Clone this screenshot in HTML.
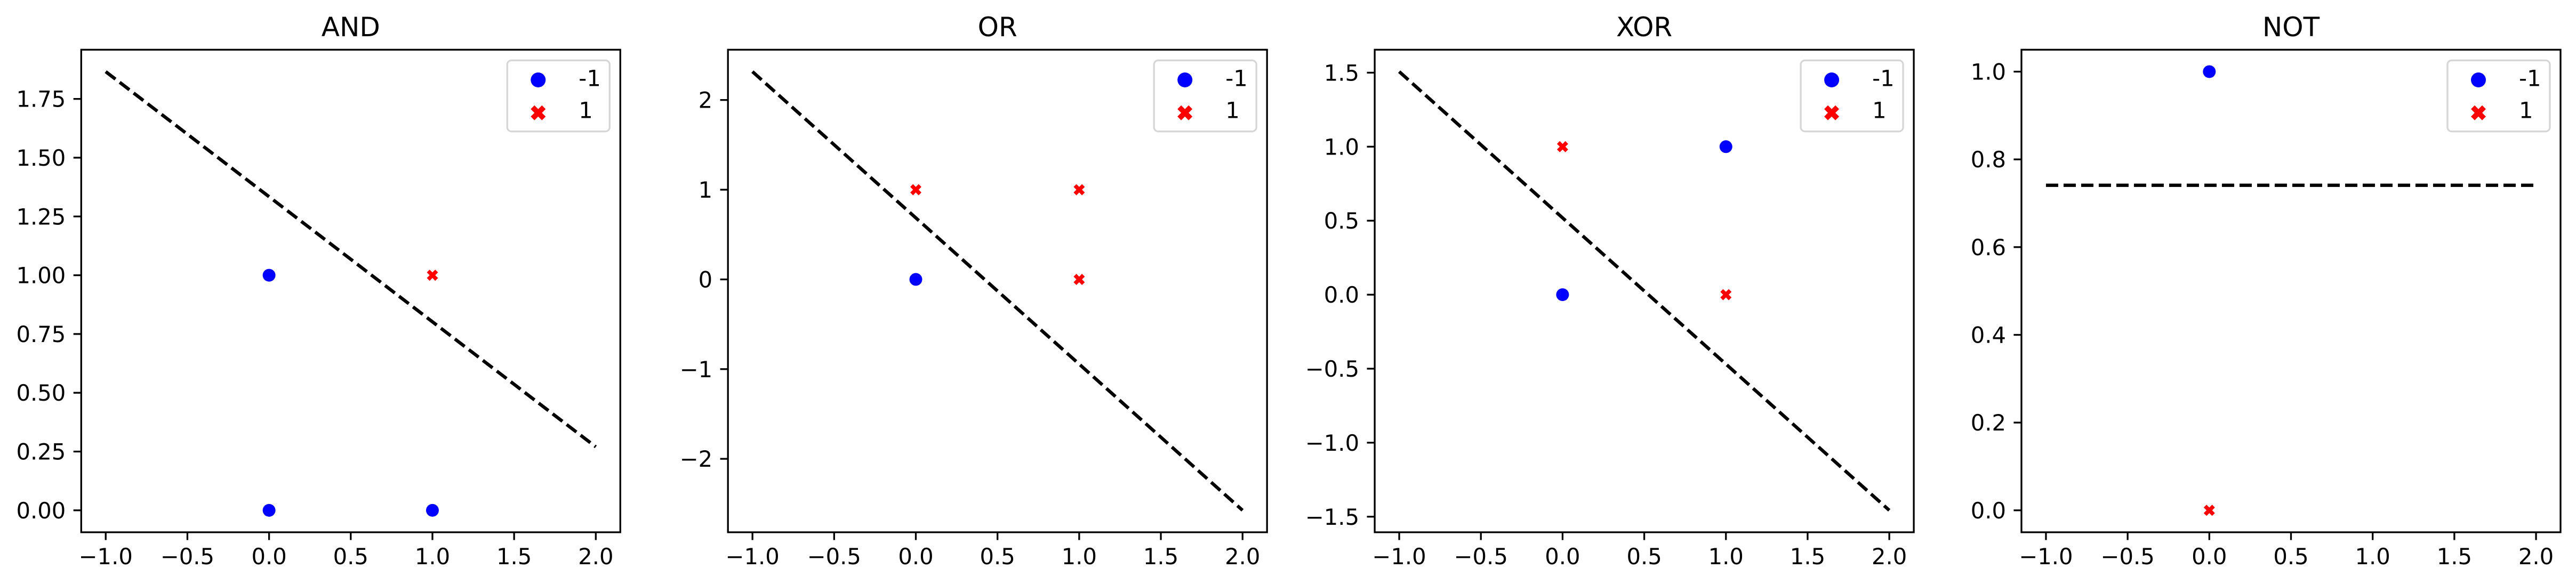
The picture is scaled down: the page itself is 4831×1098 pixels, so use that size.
<!DOCTYPE html>
<html><head><meta charset="utf-8"><style>
html,body{margin:0;padding:0;background:#fff;}
svg{display:block;font-family:"DejaVu Sans","Liberation Sans",sans-serif;}
</style></head><body>
<svg id="fig" width="4831" height="1098" viewBox="0 0 4831 1098" xmlns="http://www.w3.org/2000/svg"></svg>
<script>
const panelTitles = ["AND", "OR", "XOR", "NOT"];
const negX = [[0, 0, 1], [0], [0, 1], [0]];
const negY = [[0, 1, 0], [0], [0, 1], [1]];
const posX = [[1], [0, 1, 1], [0, 1], [0]];
const posY = [[1], [1, 1, 0], [1, 0], [0]];
const lineX = [[-1, 2], [-1, 2], [-1, 2], [-1, 2]];
const lineY = [[1.866, 0.27], [2.316, -2.574], [1.507, -1.457], [0.741, 0.741]];
const xTicks = [-1.0, -0.5, 0.0, 0.5, 1.0, 1.5, 2.0];
const xTickLabels = ["−1.0", "−0.5", "0.0", "0.5", "1.0", "1.5", "2.0"];
const yTicks = [[0, 0.25, 0.5, 0.75, 1.0, 1.25, 1.5, 1.75], [-2, -1, 0, 1, 2], [-1.5, -1.0, -0.5, 0.0, 0.5, 1.0, 1.5], [0, 0.2, 0.4, 0.6, 0.8, 1.0]];
const yTickLabels = [["0.00","0.25","0.50","0.75","1.00","1.25","1.50","1.75"], ["−2","−1","0","1","2"], ["−1.5","−1.0","−0.5","0.0","0.5","1.0","1.5"], ["0.0","0.2","0.4","0.6","0.8","1.0"]];
const legendLabels = ["-1", "1"];

const NS = "http://www.w3.org/2000/svg";
const svg = document.getElementById("fig");
function mk(tag, attrs, parent) {
  const e = document.createElementNS(NS, tag);
  for (const k in attrs) e.setAttribute(k, attrs[k]);
  (parent || svg).appendChild(e);
  return e;
}
function ext(arrs) { let lo = Infinity, hi = -Infinity; arrs.forEach(a => a.forEach(v => { lo = Math.min(lo, v); hi = Math.max(hi, v); })); const m = (hi - lo) * 0.05 || 0.05; return [lo - m, hi + m]; }

const AX_LEFTS = [152.3, 1365.2, 2578.1, 3791];
const AX_W = 1011, AX_TOP = 93.3, AX_BOT = 999;
const FS = 41.7;

function crossPath(cx, cy, s) {
  const t = s * 0.5;
  const pts = [[-s+t,-s],[0,-t],[s-t,-s],[s,-s+t],[t,0],[s,s-t],[s-t,s],[0,t],[-s+t,s],[-s,s-t],[-t,0],[-s,-s+t]];
  return "M" + pts.map(p => (cx + p[0]).toFixed(1) + "," + (cy + p[1]).toFixed(1)).join("L") + "Z";
}

panelTitles.forEach((title, i) => {
  const L = AX_LEFTS[i], R = L + AX_W;
  const xl = ext([negX[i], posX[i], lineX[i]]);
  const yl = ext([negY[i], posY[i], lineY[i]]);
  const sx = v => L + (v - xl[0]) / (xl[1] - xl[0]) * AX_W;
  const sy = v => AX_BOT - (v - yl[0]) / (yl[1] - yl[0]) * (AX_BOT - AX_TOP);
  const g = mk("g", {});
  
  

  const t = mk("text", {x: (L + R) / 2, y: 68, "font-size": 50, "text-anchor": "middle", fill: "#000"}, g);
  t.textContent = title;
  
  

  const ln = mk("line", {x1: sx(lineX[i][0]), y1: sy(lineY[i][0]), x2: sx(lineX[i][1]), y2: sy(lineY[i][1]), stroke: "#000", "stroke-width": 6.25, "stroke-dasharray": "23 10"}, g);
  
  

  negX[i].forEach((x, j) => {
    const c = mk("circle", {cx: sx(x), cy: sy(negY[i][j]), r: 12, fill: "#0000ff"}, g);
    
    
  });
  posX[i].forEach((x, j) => {
    const p = mk("path", {d: crossPath(sx(x), sy(posY[i][j]), 10.5), fill: "#ff0000"}, g);
    
    
  });

  xTicks.forEach((v, k) => {
    const x = sx(v);
    const tk = mk("line", {x1: x, y1: AX_BOT, x2: x, y2: AX_BOT + 14.6, stroke: "#000", "stroke-width": 3.3}, g);
    
    
    const tl = mk("text", {x: x, y: 1059, "font-size": FS, "text-anchor": "middle", fill: "#000"}, g);
    tl.textContent = xTickLabels[k];
    
    
  });
  yTicks[i].forEach((v, k) => {
    const y = sy(v);
    const tk = mk("line", {x1: L - 14.6, y1: y, x2: L, y2: y, stroke: "#000", "stroke-width": 3.3}, g);
    
    
    const tl = mk("text", {x: L - 29, y: y + 15, "font-size": FS, "text-anchor": "end", fill: "#000"}, g);
    tl.textContent = yTickLabels[i][k];
    
    
  });

  const fr = mk("rect", {x: L, y: AX_TOP, width: AX_W, height: AX_BOT - AX_TOP, fill: "none", stroke: "#000", "stroke-width": 3.3}, g);
  
  

  const lg = mk("g", {}, g);
  
  
  const lr = R - 20, lw = 192;
  mk("rect", {x: lr - lw, y: 113.3, width: lw, height: 133.4, rx: 8, fill: "#fff", "fill-opacity": 0.8, stroke: "#d6d6d6", "stroke-width": 3.3}, lg);
  const e1 = mk("circle", {cx: lr - 134, cy: 150, r: 14, fill: "#0000ff"}, lg);
  
  
  const e2 = mk("path", {d: crossPath(lr - 134, 211.7, 14), fill: "#ff0000"}, lg);
  
  
  legendLabels.forEach((lab, k) => {
    const tx = mk("text", {x: lr - 58, y: 161.7 + k * 60, "font-size": FS, fill: "#000"}, lg);
    tx.textContent = lab;
    
    
  });
});
</script>
</body></html>
